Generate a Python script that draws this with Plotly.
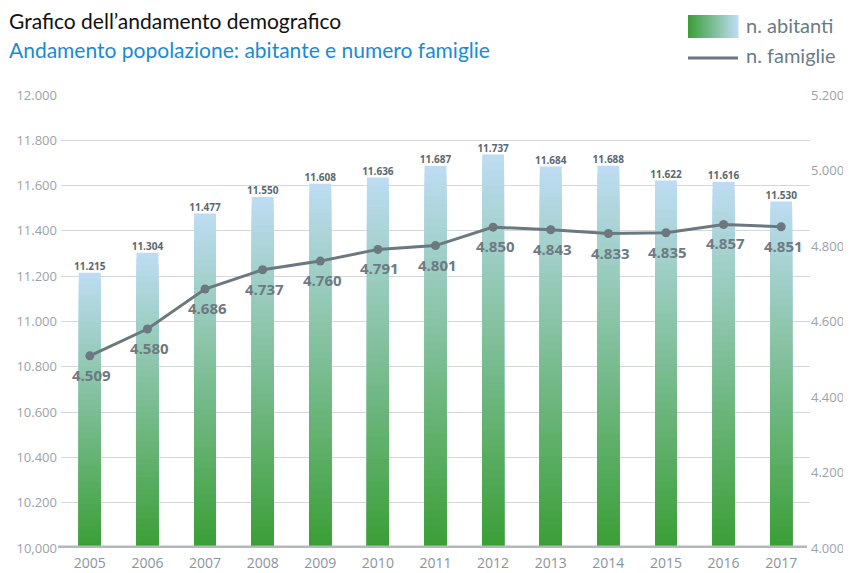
import plotly.graph_objs as go

anni = ["2005", "2006", "2007", "2008", "2009", "2010", "2011",
        "2012", "2013", "2014", "2015", "2016", "2017"]
abitanti = [11215, 11304, 11477, 11550, 11608, 11636, 11687,
            11737, 11684, 11688, 11622, 11616, 11530]
famiglie = [4509, 4580, 4686, 4737, 4760, 4791, 4801,
            4850, 4843, 4833, 4835, 4857, 4851]

left_vals = [10000, 10200, 10400, 10600, 10800, 11000, 11200,
             11400, 11600, 11800, 12000]
left_text = ["10,000", "10.200", "10.400", "10.600", "10.800", "11.000", "11.200",
             "11.400", "11.600", "11.800", "12.000"]
right_vals = [4000, 4200, 4400, 4600, 4800, 5000, 5200]
right_text = ["4.000", "4.200", "4.400.", "4.600", "4.800", "5.000", "5.200"]

# the page body adds an 8px margin, so the figure is a bit smaller
OFF = 8
W, H = 851 - OFF, 573 - OFF
ML, MR, MT, MB = 61 - OFF, 851 - 810, 95 - OFF, H - (548 - OFF)
PW, PH = W - ML - MR, H - MT - MB

green = (58, 158, 53)
blue = (190, 221, 243)
FONT = "Lato, sans-serif"


def mix(t):
    return "rgb(%d,%d,%d)" % tuple(round(g + (b - g) * t) for g, b in zip(green, blue))


def fmt(v):
    return f"{v:,}".replace(",", ".")


fig = go.Figure()

# gradient bars: overlaid bars, tallest (top colour) first, each shorter one on top
N = 50
base0 = 10000
for k in range(N):
    frac = (N - k) / N
    fig.add_trace(go.Bar(
        x=anni,
        y=[(v - base0) * frac for v in abitanti],
        base=base0,
        marker=dict(color=mix(frac - 0.5 / N), line=dict(width=0)),
        width=0.38, showlegend=False, hoverinfo="skip"))

fig.add_trace(go.Scatter(
    x=anni, y=abitanti, mode="text",
    text=[fmt(v) for v in abitanti],
    textposition="top center",
    textfont=dict(family="Open Sans", size=10, color="#5b6770", weight="bold"),
    showlegend=False, hoverinfo="skip"))

fig.add_trace(go.Scatter(
    x=anni, y=famiglie, yaxis="y2", mode="lines+markers",
    line=dict(color="#6b7880", width=3),
    marker=dict(size=9, color="#6b7880"),
    showlegend=False, hoverinfo="skip"))

shapes = [dict(type="line", xref="paper", yref="y", x0=-0.004, x1=0.996, y0=10000, y1=10000,
               line=dict(color="#b3b8bc", width=5))]


def px(x):
    return (x - OFF - ML) / PW


def py(y):
    return (H - MB - (y - OFF)) / PH


# legend gradient box
lx0, lx1, ly0, ly1 = 688, 738, 15, 38
M = 25
for i in range(M):
    shapes.append(dict(
        type="rect", xref="paper", yref="paper",
        x0=px(lx0 + (lx1 - lx0) * i / M), x1=px(lx0 + (lx1 - lx0) * (i + 1) / M + 0.5),
        y0=py(ly1), y1=py(ly0),
        fillcolor=mix((i + 0.5) / M), line=dict(width=0), layer="above"))
shapes.append(dict(
    type="line", xref="paper", yref="paper",
    x0=px(lx0), x1=px(lx1), y0=py(58), y1=py(58),
    line=dict(color="#6b7880", width=3)))


def ann(text, x, y, size, color):
    return dict(text=text, xref="paper", yref="paper", x=px(x), y=py(y),
                xanchor="left", yanchor="middle", showarrow=False,
                font=dict(family=FONT, size=size, color=color))


annotations = [
    ann("Grafico dell’andamento demografico", 7, 20, 21, "#111111"),
    ann("Andamento popolazione: abitante e numero famiglie", 7, 50, 21, "#1a8ad4"),
    ann("n. abitanti", 744, 25, 20, "#6b7b85"),
    ann("n. famiglie", 744, 55, 20, "#6b7b85"),
]
# family labels under the points (category index used as x)
for i, f in enumerate(famiglie):
    annotations.append(dict(
        text=fmt(f), xref="x", yref="y2", x=i, y=f, yshift=-19, xshift=2,
        showarrow=False, xanchor="center", yanchor="middle",
        font=dict(family="Open Sans", size=15, color="#6d7a83", weight="bold")))

fig.update_layout(
    width=W, height=H,
    margin=dict(l=ML, r=MR, t=MT, b=MB),
    plot_bgcolor="white", paper_bgcolor="white",
    barmode="overlay", bargap=0.6,
    font=dict(family="Open Sans", color="#9aa3aa"),
    xaxis=dict(type="category", showgrid=False, showline=False, ticks="",
               automargin=False, ticklabelstandoff=5,
               tickfont=dict(size=14, color="#8a949b"), range=[-0.5, 12.5]),
    yaxis=dict(range=[10000, 12000], tickvals=left_vals, ticktext=left_text,
               showgrid=True, gridcolor="#d3d7da", gridwidth=1, zeroline=False,
               automargin=False, ticks="", ticklabelstandoff=3,
               tickfont=dict(size=13, color="#9aa3aa")),
    yaxis2=dict(range=[4000, 5200], tickvals=right_vals, ticktext=right_text,
                overlaying="y", side="right", showgrid=False, zeroline=False,
                automargin=False, ticks="", tickfont=dict(size=13, color="#9aa3aa")),
    shapes=shapes,
    annotations=annotations,
)

fig.write_html("out.html")
